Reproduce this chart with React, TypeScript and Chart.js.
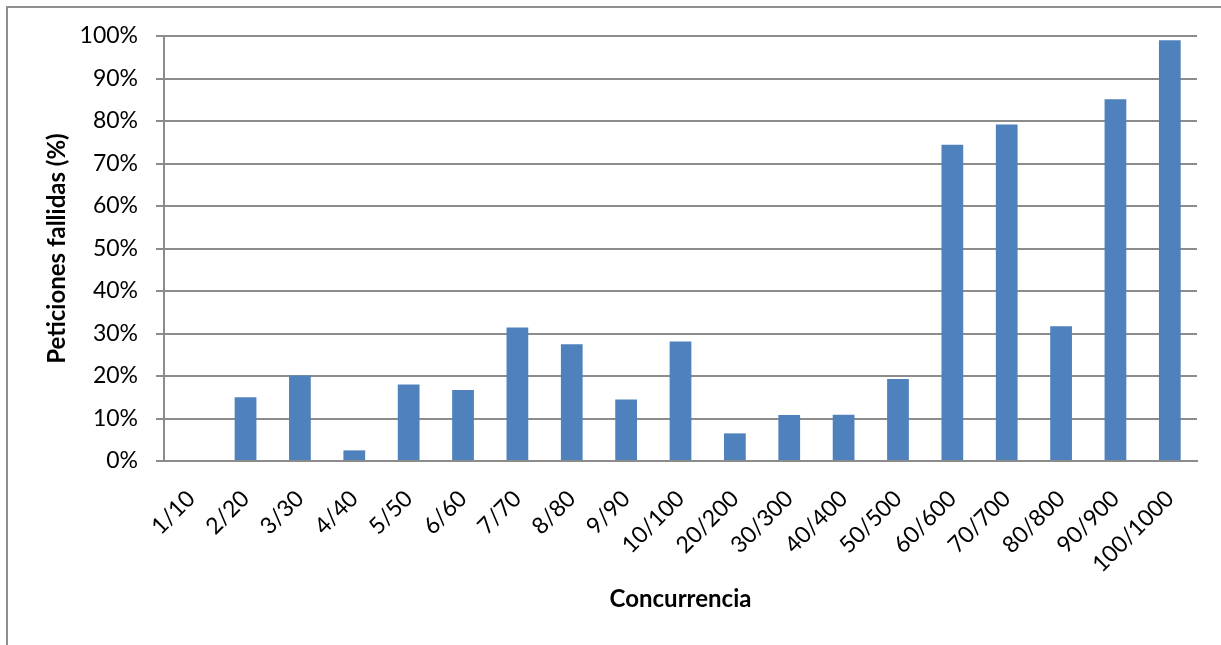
import React, { useEffect, useRef } from "react";
import { Chart, registerables } from "chart.js";

Chart.register(...registerables);

const categories = [
  "1/10", "2/20", "3/30", "4/40", "5/50", "6/60", "7/70", "8/80", "9/90", "10/100",
  "20/200", "30/300", "40/400", "50/500", "60/600", "70/700", "80/800", "90/900", "100/1000",
];
const failedPct = [
  0, 15, 20.1, 2.5, 18, 16.7, 31.4, 27.5, 14.5, 28.1,
  6.5, 10.8, 10.9, 19.3, 74.4, 79.2, 31.7, 85.1, 99.0,
];
const yTicks = [0, 10, 20, 30, 40, 50, 60, 70, 80, 90, 100];

const W = 1221;
const H = 645;
const FONT = "Lato, 'Open Sans', sans-serif";
const GRID = "#8c8c8c";

export default function App() {
  const ref = useRef<HTMLCanvasElement | null>(null);

  useEffect(() => {
    if (!ref.current) return;
    const chart = new Chart(ref.current, {
      type: "bar",
      data: {
        labels: categories,
        datasets: [
          {
            label: "Peticiones fallidas",
            data: failedPct,
            backgroundColor: "#4f81bd",
            borderWidth: 0,
            barPercentage: 0.4,
            categoryPercentage: 1,
          },
        ],
      },
      options: {
        animation: false,
        responsive: false,
        devicePixelRatio: 1,
        layout: { padding: { left: 0, top: 36, right: 24, bottom: 0 } },
        plugins: {
          legend: { display: false },
          tooltip: { enabled: false },
        },
        scales: {
          x: {
            type: "category",
            grid: { display: false },
            border: { display: true, color: GRID, width: 2 },
            ticks: {
              color: "#000",
              font: { family: FONT, size: 23 },
              minRotation: 45,
              maxRotation: 45,
              padding: 16,
              autoSkip: false,
            },
            title: {
              display: true,
              text: "Concurrencia",
              color: "#000",
              font: { family: FONT, size: 24, weight: "bold" },
              padding: { top: 0, bottom: 31 },
            },
            afterFit: (scale: any) => {
              scale.height = H - 461;
            },
          },
          y: {
            min: 0,
            max: 100,
            afterBuildTicks: (scale: any) => {
              scale.ticks = yTicks.map((v) => ({ value: v }));
            },
            grid: {
              color: GRID,
              lineWidth: 2,
              drawTicks: true,
              tickLength: 8,
              tickColor: GRID,
            },
            border: { display: true, color: GRID, width: 2 },
            ticks: {
              color: "#000",
              font: { family: FONT, size: 23 },
              padding: 18,
              callback: (v: any) => `${v}%`,
            },
            title: {
              display: true,
              text: "Peticiones fallidas (%)",
              color: "#000",
              font: { family: FONT, size: 24, weight: "bold" },
              padding: { top: 43, bottom: 0 },
            },
            afterFit: (scale: any) => {
              scale.width = 164;
            },
          },
        },
      },
    });
    return () => chart.destroy();
  }, []);

  return (
    <div
      style={{
        position: "fixed",
        left: 0,
        top: 0,
        width: W,
        height: H,
        overflow: "hidden",
        background: "#fff",
      }}
    >
      <div
        style={{
          position: "absolute",
          left: 6,
          top: 6,
          width: 1300,
          height: 700,
          border: "2px solid #8e8e8e",
          boxSizing: "border-box",
        }}
      />
      <canvas
        ref={ref}
        width={W}
        height={H}
        style={{ position: "absolute", left: 0, top: 0, width: W, height: H }}
      />
    </div>
  );
}
